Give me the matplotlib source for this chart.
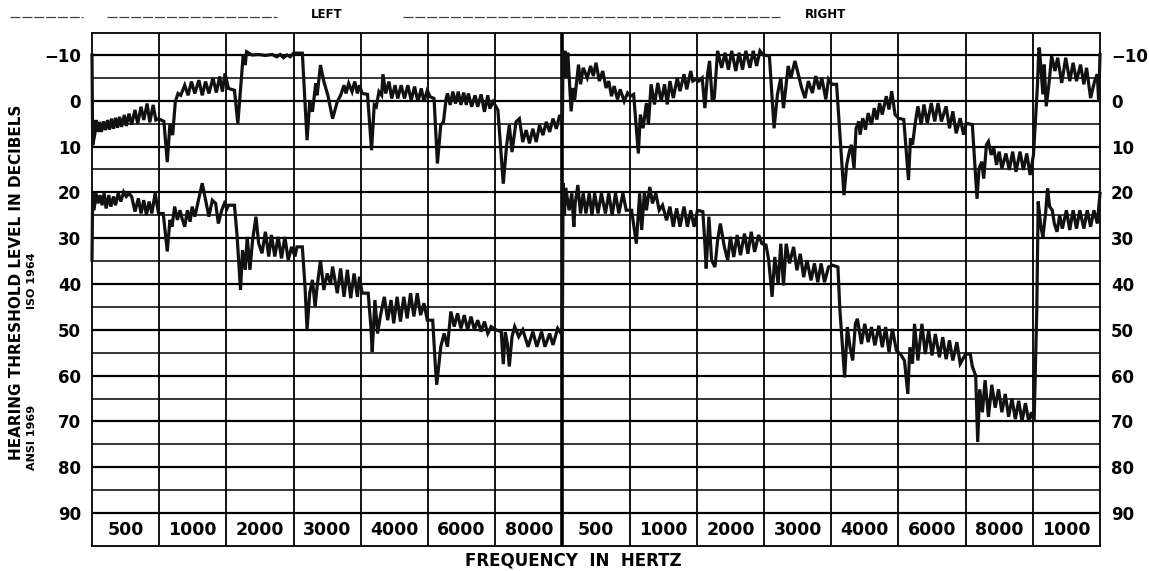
import numpy as np
from matplotlib import pyplot as plt
from matplotlib.lines import Line2D

# ---------------------------------------------- #
# Chart data
# ---------------------------------------------- #
left_freqs = ['500', '1000', '2000', '3000', '4000', '6000', '8000']
right_freqs = ['500', '1000', '2000', '3000', '4000', '6000', '8000', '1000']
db_ticks = [-10, 0, 10, 20, 30, 40, 50, 60, 70, 80, 90]

# Bekesy tracings: (position in frequency segments, hearing level dB)
upper_left = [
    (0.00, -10.0), (0.01, 9.7), (0.04, 7.5), (0.06, 4.2), (0.09, 6.8), (0.11, 4.6), (0.14, 6.8),
    (0.17, 4.5), (0.20, 6.4), (0.23, 4.2), (0.26, 6.3), (0.29, 3.9), (0.32, 6.1), (0.35, 3.7),
    (0.38, 5.9), (0.41, 3.5), (0.44, 5.7), (0.48, 3.1), (0.51, 5.5), (0.55, 2.8), (0.59, 5.2),
    (0.64, 2.0), (0.68, 5.0), (0.73, 1.3), (0.77, 4.2), (0.82, 0.6), (0.86, 4.7), (0.91, 0.9),
    (0.95, 4.2), (0.99, 3.9),
    (1.07, 4.5), (1.12, 13.4), (1.16, 5.0), (1.20, 7.5), (1.24, 0.2), (1.28, -1.6), (1.32, -1.2),
    (1.38, -3.4), (1.43, -1.2), (1.48, -4.2), (1.53, -1.6), (1.59, -4.5), (1.64, -1.2), (1.69, -4.2),
    (1.74, -1.6), (1.80, -5.0), (1.85, -1.8), (1.90, -5.3), (1.94, -2.0), (1.98, -6.0),
    (2.03, -2.7), (2.12, -2.3), (2.17, 5.0), (2.25, -10.0), (2.28, -7.8), (2.30, -10.7), (2.38, -10.0),
    (2.48, -10.1), (2.58, -9.9), (2.68, -10.1), (2.75, -9.6), (2.80, -10.1), (2.85, -9.4), (2.90, -10.0),
    (2.95, -9.6),
    (3.00, -10.4), (3.13, -10.4), (3.20, 8.6), (3.24, 0.2), (3.28, 2.4), (3.33, -3.8), (3.35, -1.2),
    (3.40, -7.8), (3.45, -4.2), (3.51, -1.2), (3.58, 3.9), (3.65, 0.2), (3.70, -1.2), (3.75, -3.4),
    (3.78, -1.6), (3.82, -3.8), (3.87, -2.0), (3.91, -4.2), (3.95, -1.6), (3.98, -3.4),
    (4.02, -1.6), (4.10, -1.4), (4.16, 10.8), (4.20, 0.9), (4.23, 1.3), (4.27, -2.0), (4.31, -1.2),
    (4.33, -5.8), (4.37, -1.6), (4.42, -4.2), (4.46, -0.5), (4.51, -3.4), (4.55, -0.5), (4.60, -3.4),
    (4.65, -0.5), (4.70, -3.4), (4.75, -0.1), (4.80, -3.1), (4.85, 0.2), (4.90, -2.7), (4.94, 0.2),
    (4.99, -2.3),
    (5.03, -0.9), (5.09, -0.5), (5.14, 13.7), (5.19, 5.3), (5.23, 4.6), (5.27, -0.5), (5.29, -1.6),
    (5.33, 0.9), (5.37, -2.0), (5.41, 0.6), (5.45, -2.0), (5.49, 0.9), (5.53, -1.8), (5.57, 0.9),
    (5.60, -1.6), (5.65, 1.3), (5.70, -1.2), (5.74, 1.3), (5.79, -1.4), (5.84, 2.4), (5.89, -1.2),
    (5.92, 1.7), (5.97, 0.2),
    (6.04, 2.0), (6.12, 18.1), (6.17, 9.7), (6.21, 5.3), (6.25, 11.2), (6.31, 4.6), (6.36, 3.9),
    (6.41, 9.0), (6.46, 6.4), (6.51, 9.3), (6.56, 6.1), (6.61, 9.0), (6.66, 5.3), (6.71, 7.5),
    (6.76, 4.6), (6.81, 6.8), (6.86, 3.9), (6.91, 6.1), (6.96, 3.1), (7.00, 4.5),
]

upper_right = [
    (7.01, -10.9), (7.03, -5.0), (7.04, -10.9), (7.06, -5.0), (7.08, -10.5), (7.13, 2.3), (7.16, -2.8),
    (7.18, 0.1), (7.24, -7.9), (7.27, -3.6), (7.31, -7.2), (7.37, -5.0), (7.42, -7.6), (7.46, -5.4),
    (7.50, -8.3), (7.55, -4.3), (7.60, -6.5), (7.65, -2.8), (7.69, -4.3), (7.73, -1.0), (7.77, -3.2),
    (7.82, -0.3), (7.86, -2.5), (7.92, 0.1), (7.97, -1.7),
    (8.01, -1.0), (8.06, -1.4), (8.13, 11.5), (8.16, 3.0), (8.20, 6.0), (8.25, 0.5), (8.28, 5.2),
    (8.32, -3.6), (8.37, 0.8), (8.42, -3.9), (8.47, 0.1), (8.52, -3.6), (8.56, 0.8), (8.60, -4.3),
    (8.65, -0.6), (8.71, -5.0), (8.75, -2.1), (8.81, -5.8), (8.85, -2.5), (8.91, -6.5), (8.94, -4.3),
    (8.99, -4.7),
    (9.03, -4.3), (9.08, -5.0), (9.12, 1.6), (9.16, -5.8), (9.19, -8.7), (9.23, 0.1), (9.26, -0.6),
    (9.31, -10.9), (9.37, -7.2), (9.42, -10.5), (9.47, -6.8), (9.52, -10.9), (9.58, -6.5), (9.63, -10.5),
    (9.68, -6.8), (9.73, -10.9), (9.79, -7.2), (9.84, -10.9), (9.89, -7.6), (9.94, -10.9), (9.99, -10.0),
    (10.08, -9.8), (10.15, 6.0), (10.20, -1.4), (10.25, -5.0), (10.29, 1.6), (10.33, -3.6), (10.36, -7.6),
    (10.40, -5.0), (10.46, -8.7), (10.51, -5.8), (10.56, -2.8), (10.61, -0.6), (10.66, -4.3), (10.72, -1.7),
    (10.77, -5.4), (10.82, -2.5), (10.86, -5.0), (10.92, -0.3), (10.96, -4.7),
    (11.01, -3.6), (11.08, -3.6), (11.19, 20.6), (11.23, 14.0), (11.27, 11.1), (11.30, 9.6), (11.34, 14.8),
    (11.37, 6.0), (11.41, 4.5), (11.43, 7.4), (11.47, 3.8), (11.51, 6.3), (11.55, 2.7), (11.60, 5.2),
    (11.64, 1.6), (11.68, 4.1), (11.72, 0.5), (11.76, 3.0), (11.82, -1.0), (11.86, 1.9), (11.90, -2.1),
    (11.95, 3.0),
    (12.00, 3.8), (12.08, 4.1), (12.15, 17.3), (12.18, 8.2), (12.21, 9.6), (12.25, 4.9), (12.29, 1.2),
    (12.34, 5.2), (12.38, 0.8), (12.43, 4.9), (12.49, 0.5), (12.54, 4.5), (12.59, 0.5), (12.64, 4.5),
    (12.71, 1.2), (12.76, 6.0), (12.81, 2.3), (12.86, 7.1), (12.92, 3.8), (12.97, 7.4),
    (13.01, 4.9), (13.10, 5.2), (13.17, 21.4), (13.20, 14.8), (13.24, 13.3), (13.27, 17.0), (13.31, 9.6),
    (13.34, 8.9), (13.38, 11.8), (13.42, 10.4), (13.46, 14.0), (13.50, 11.1), (13.54, 14.8), (13.60, 11.5),
    (13.65, 15.1), (13.70, 11.1), (13.75, 15.5), (13.81, 11.1), (13.86, 15.1), (13.91, 11.5), (13.96, 16.2),
    (14.01, 11.8),
    (14.07, -3.6), (14.09, -11.6), (14.10, -11.2), (14.15, -1.4), (14.17, -7.9), (14.20, 1.2), (14.24, -3.6),
    (14.28, -9.8), (14.33, -6.5), (14.37, -9.4), (14.43, -3.9), (14.49, -9.4), (14.55, -4.3), (14.60, -8.3),
    (14.65, -4.3), (14.71, -7.9), (14.76, -3.6), (14.80, -7.2), (14.86, -0.6), (14.92, -4.3), (14.96, -5.8),
    (14.98, 0.1), (15.00, -10.1),
]

lower_left = [
    (0.00, 34.8), (0.01, 20.2), (0.03, 23.9), (0.06, 20.2), (0.09, 22.4), (0.12, 20.6), (0.15, 22.8),
    (0.18, 20.2), (0.21, 23.5), (0.25, 20.6), (0.28, 23.1), (0.32, 20.9), (0.35, 22.8), (0.39, 20.2),
    (0.43, 22.0), (0.47, 19.9), (0.51, 20.9), (0.55, 20.2), (0.59, 20.9), (0.64, 24.2), (0.69, 21.3),
    (0.73, 24.6), (0.77, 21.7), (0.81, 24.9), (0.85, 22.0), (0.89, 24.6), (0.94, 20.2), (0.99, 24.6),
    (1.06, 24.6), (1.12, 32.9), (1.16, 26.0), (1.19, 27.5), (1.23, 23.1), (1.27, 26.0), (1.31, 23.9),
    (1.34, 25.7), (1.38, 27.5), (1.42, 23.9), (1.46, 26.4), (1.49, 23.1), (1.53, 25.3), (1.58, 22.0),
    (1.64, 18.0), (1.69, 21.7), (1.74, 25.3), (1.79, 21.7), (1.84, 22.4), (1.88, 26.8), (1.93, 23.9),
    (1.97, 22.4),
    (2.01, 23.5), (2.03, 22.8), (2.12, 22.8), (2.16, 29.7), (2.21, 41.3), (2.24, 32.6), (2.28, 36.9),
    (2.31, 29.7), (2.35, 36.9), (2.39, 30.4), (2.44, 25.3), (2.48, 31.1), (2.53, 33.3), (2.58, 28.6),
    (2.63, 34.0), (2.67, 29.3), (2.72, 34.0), (2.77, 29.7), (2.82, 34.4), (2.87, 29.7), (2.92, 34.8),
    (2.97, 31.9),
    (3.02, 34.0), (3.05, 31.9), (3.13, 31.9), (3.17, 40.6), (3.20, 50.0), (3.24, 42.0), (3.28, 39.1),
    (3.32, 44.9), (3.35, 40.6), (3.40, 34.8), (3.45, 41.3), (3.50, 37.7), (3.55, 39.9), (3.58, 36.2),
    (3.65, 42.0), (3.70, 36.6), (3.75, 42.8), (3.80, 36.9), (3.85, 43.1), (3.90, 37.7), (3.95, 42.8),
    (3.98, 38.4),
    (4.02, 42.0), (4.11, 42.0), (4.15, 49.3), (4.17, 54.8), (4.21, 43.5), (4.25, 50.8), (4.29, 47.1),
    (4.35, 42.8), (4.40, 47.9), (4.45, 43.5), (4.49, 48.6), (4.54, 42.8), (4.59, 48.2), (4.64, 42.8),
    (4.69, 47.5), (4.74, 42.0), (4.79, 47.1), (4.84, 42.0), (4.89, 46.8), (4.94, 44.2), (4.99, 47.9),
    (5.07, 47.9), (5.11, 58.0), (5.13, 62.0), (5.19, 53.7), (5.24, 50.8), (5.29, 53.7), (5.34, 46.0),
    (5.39, 49.3), (5.44, 46.4), (5.49, 49.7), (5.54, 46.8), (5.59, 50.0), (5.64, 47.1), (5.69, 50.0),
    (5.74, 47.9), (5.79, 50.4), (5.84, 48.2), (5.89, 50.8), (5.94, 49.3),
    (6.01, 50.0), (6.09, 50.4), (6.12, 57.5), (6.15, 50.5), (6.18, 53.0), (6.21, 58.0), (6.25, 51.5),
    (6.29, 49.3), (6.35, 51.5), (6.41, 50.0), (6.49, 53.7), (6.56, 50.4), (6.62, 53.7), (6.69, 50.4),
    (6.74, 53.7), (6.81, 50.8), (6.86, 53.3), (6.93, 49.7), (6.98, 50.8), (7.00, 49.7),
]

lower_right = [
    (7.01, 18.0), (7.03, 25.0), (7.05, 19.0), (7.10, 23.9), (7.14, 20.2), (7.17, 27.5), (7.19, 22.4),
    (7.23, 18.4), (7.27, 24.6), (7.31, 20.2), (7.35, 24.6), (7.40, 20.2), (7.44, 25.0), (7.48, 20.2),
    (7.53, 24.6), (7.58, 20.2), (7.64, 24.6), (7.69, 20.2), (7.74, 25.0), (7.79, 20.2), (7.84, 24.6),
    (7.90, 20.2), (7.95, 23.9),
    (8.03, 23.9), (8.10, 31.2), (8.15, 20.2), (8.18, 28.2), (8.22, 19.9), (8.25, 23.9), (8.30, 18.8),
    (8.34, 22.4), (8.39, 20.2), (8.44, 23.9), (8.49, 22.8), (8.55, 26.1), (8.60, 23.1), (8.65, 27.5),
    (8.70, 23.5), (8.75, 27.5), (8.81, 23.1), (8.86, 27.5), (8.91, 23.9), (8.96, 27.5),
    (9.01, 23.9), (9.09, 24.2), (9.12, 31.2), (9.14, 36.6), (9.18, 25.3), (9.22, 34.8), (9.27, 36.3),
    (9.31, 30.4), (9.35, 26.8), (9.41, 31.9), (9.46, 34.8), (9.50, 29.7), (9.55, 34.1), (9.60, 29.3),
    (9.65, 33.7), (9.71, 29.0), (9.76, 33.4), (9.81, 28.6), (9.86, 33.0), (9.92, 29.3), (9.97, 31.2),
    (10.03, 31.5), (10.07, 34.8), (10.12, 42.8), (10.16, 34.1), (10.21, 39.9), (10.25, 31.2), (10.29, 40.3),
    (10.33, 31.2), (10.38, 35.5), (10.44, 31.9), (10.49, 37.0), (10.54, 33.4), (10.59, 38.5), (10.64, 34.8),
    (10.70, 39.2), (10.75, 35.5), (10.80, 39.6), (10.85, 35.5), (10.90, 39.6), (10.96, 36.3),
    (11.02, 35.9), (11.10, 36.3), (11.13, 45.8), (11.20, 60.4), (11.24, 49.4), (11.28, 53.8), (11.32, 56.7),
    (11.36, 48.7), (11.39, 47.6), (11.45, 53.1), (11.50, 48.7), (11.55, 52.7), (11.60, 49.4), (11.65, 53.4),
    (11.71, 49.1), (11.76, 53.8), (11.81, 49.4), (11.86, 54.9), (11.91, 49.8), (11.97, 54.5),
    (12.03, 55.3), (12.09, 56.7), (12.14, 64.0), (12.17, 53.8), (12.21, 57.4), (12.24, 48.7), (12.29, 56.7),
    (12.35, 48.7), (12.40, 55.3), (12.45, 50.1), (12.50, 55.6), (12.55, 50.9), (12.61, 56.0), (12.66, 51.6),
    (12.71, 56.4), (12.76, 52.3), (12.81, 56.7), (12.87, 52.7), (12.92, 57.4),
    (13.00, 55.3), (13.07, 55.3), (13.10, 58.0), (13.15, 60.0), (13.18, 74.5), (13.21, 63.0), (13.25, 68.0),
    (13.29, 61.0), (13.34, 69.0), (13.39, 62.0), (13.44, 67.0), (13.49, 63.0), (13.54, 68.0), (13.59, 64.0),
    (13.64, 69.0), (13.69, 65.0), (13.74, 69.5), (13.79, 65.5), (13.84, 70.0), (13.89, 66.0), (13.94, 70.0),
    (13.98, 68.0),
    (14.02, 70.0), (14.06, 45.0), (14.08, 22.0), (14.12, 27.5), (14.15, 29.7), (14.19, 24.6), (14.22, 19.1),
    (14.25, 23.1), (14.29, 23.9), (14.32, 26.8), (14.36, 28.6), (14.40, 25.0), (14.44, 27.9), (14.50, 23.9),
    (14.55, 28.2), (14.60, 23.9), (14.65, 27.9), (14.70, 23.9), (14.76, 27.9), (14.81, 23.9), (14.86, 27.5),
    (14.91, 23.9), (14.96, 26.8), (15.00, 20.2),
]

# ---------------------------------------------- #
# Figure and grid
# ---------------------------------------------- #
W, H = 1149, 571
fig = plt.figure(figsize=(W / 100, H / 100), dpi=100)
ax = fig.add_axes([92 / W, 1 - 546 / H, 1008 / W, 513 / H])

freqs = left_freqs + right_freqs
n_seg = len(freqs)
ax.set_xlim(0, n_seg)
ax.set_ylim(97.2, -14.8)

for v in range(-10, 95, 5):
    ax.axhline(v, color='black', lw=1.6 if v % 10 == 0 else 1.1, zorder=1)
for k in range(1, n_seg):
    ax.axvline(k, color='black', lw=2.6 if k == len(left_freqs) else 1.3, zorder=1)
for s in ax.spines.values():
    s.set_linewidth(1.3)

# frequency labels in the bottom row
for k, f in enumerate(freqs):
    ax.text(k + 0.5, 93.7, f, ha='center', va='center', fontsize=12.5,
            fontweight='bold', zorder=4)

# ---------------------------------------------- #
# Tracings
# ---------------------------------------------- #
for trace in (upper_left + upper_right, lower_left + lower_right):
    t = np.array(trace)
    ax.plot(t[:, 0], t[:, 1], color='#111111', lw=2.3, zorder=3,
            solid_joinstyle='miter', clip_on=False)

# ---------------------------------------------- #
# Axes labels
# ---------------------------------------------- #
ax.set_xticks([])
ax.set_yticks(db_ticks)
ax.set_yticklabels([('\u2212' + str(-d)) if d < 0 else str(d) for d in db_ticks],
                   fontsize=12, fontweight='bold')
ax.tick_params(axis='y', length=0, pad=8, left=True, right=True,
               labelleft=True, labelright=True)

fig.text(573 / W, 1 - 560 / H, 'FREQUENCY  IN  HERTZ', ha='center', va='center',
         fontsize=12, fontweight='bold')
fig.text(17 / W, 1 - 282 / H, 'HEARING THRESHOLD LEVEL IN DECIBELS', rotation=90,
         ha='center', va='center', fontsize=11, fontweight='bold')
fig.text(32 / W, 1 - 281 / H, 'ISO 1964', rotation=90, ha='center', va='center',
         fontsize=8, fontweight='bold')
fig.text(32 / W, 1 - 437 / H, 'ANSI 1969', rotation=90, ha='center', va='center',
         fontsize=8, fontweight='bold')

fig.text(327 / W, 1 - 14 / H, 'LEFT', ha='center', va='center', fontsize=8.5, fontweight='bold')
fig.text(826 / W, 1 - 14 / H, 'RIGHT', ha='center', va='center', fontsize=8.5, fontweight='bold')
for x0, x1 in [(10, 83), (107, 277), (403, 780)]:
    fig.add_artist(Line2D([x0 / W, x1 / W], [1 - 17 / H, 1 - 17 / H], transform=fig.transFigure,
                          color='#444444', lw=0.9, linestyle=(0, (8, 1.5))))

plt.savefig('out.png', dpi=100)
